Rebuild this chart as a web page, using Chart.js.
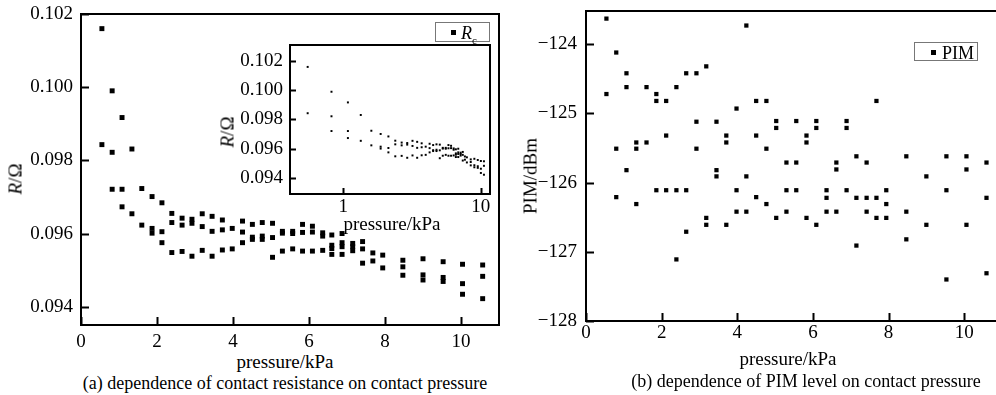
<!DOCTYPE html>
<html>
<head>
<meta charset="utf-8">
<script src="https://cdn.jsdelivr.net/npm/chart.js@4/dist/chart.umd.min.js"></script>
<style>
  html, body { margin: 0; padding: 0; background: #fff; overflow: hidden; }
  body { width: 996px; height: 395px; position: relative; font-family: "Liberation Serif", "Times New Roman", serif; color: #000; }
  canvas { position: absolute; }
  .lbl { position: absolute; transform: translate(-50%, -50%); white-space: nowrap; font-size: 19px; line-height: 1; }
  .cap { font-size: 18px; }
  .rot { transform: translate(-50%, -50%) rotate(-90deg); }
  .legend { position: absolute; border: 1px solid #777; background: #fff; font-size: 18px; line-height: 1; box-sizing: border-box; }
  .legend .mk { position: absolute; width: 5px; height: 5px; background: #000; }
  .legend .tx { position: absolute; }
</style>
</head>
<body>
<canvas id="chartA" width="510" height="350" style="left:0;top:0"></canvas>
<canvas id="chartInset" width="300" height="200" style="left:200px;top:30px"></canvas>
<canvas id="chartB" width="510" height="350" style="left:505px;top:0"></canvas>

<div class="lbl rot" style="left:15px;top:179px"><i>R</i>/Ω</div>
<div class="lbl" style="left:285px;top:361px">pressure/kPa</div>
<div class="lbl cap" style="left:285px;top:383px">(a) dependence of contact resistance on contact pressure</div>
<div class="lbl rot" style="left:227px;top:132px"><i>R</i>/Ω</div>
<div class="lbl" style="left:392px;top:223px">pressure/kPa</div>
<div class="legend" style="left:435px;top:22px;width:55px;height:20px">
  <span class="mk" style="left:15px;top:7px"></span>
  <span class="tx" style="left:25px;top:1px"><i>R</i><sub style="font-size:11px">c</sub></span>
</div>

<div class="lbl rot" style="left:530px;top:176px">PIM/dBm</div>
<div class="lbl" style="left:788px;top:358px">pressure/kPa</div>
<div class="lbl cap" style="left:806px;top:381px">(b) dependence of PIM level on contact pressure</div>
<div class="legend" style="left:914px;top:42px;width:64px;height:19px">
  <span class="mk" style="left:16px;top:7px"></span>
  <span class="tx" style="left:27px;top:1px">PIM</span>
</div>

<script>
// contact resistance vs pressure (one entry per plotted point)
const rcPressure = [
  0.55, 0.55,
  0.82, 0.82, 0.82,
  1.08, 1.08, 1.08,
  1.34, 1.34,
  1.60, 1.60,
  1.87, 1.87, 1.87,
  2.13, 2.13, 2.13,
  2.39, 2.39, 2.39,
  2.66, 2.66, 2.66,
  2.92, 2.92, 2.92,
  3.19, 3.19, 3.19,
  3.45, 3.45, 3.45,
  3.72, 3.72, 3.72,
  3.98, 3.98,
  4.25, 4.25, 4.25,
  4.51, 4.51, 4.51,
  4.77, 4.77, 4.77,
  5.04, 5.04, 5.04,
  5.30, 5.30, 5.30,
  5.57, 5.57, 5.57,
  5.83, 5.83, 5.83,
  6.09, 6.09, 6.09,
  6.36, 6.36, 6.36,
  6.60, 6.60, 6.60, 6.60,
  6.87, 6.87, 6.87, 6.87,
  7.15, 7.15, 7.15,
  7.41, 7.41, 7.41,
  7.68, 7.68,
  7.94, 7.94,
  8.47, 8.47, 8.47,
  9.00, 9.00, 9.00,
  9.53, 9.53, 9.53,
  10.04, 10.04, 10.04,
  10.57, 10.57, 10.57
];
const rcValue = [
  0.10160, 0.09843,
  0.09990, 0.09822, 0.09721,
  0.09917, 0.09721, 0.09673,
  0.09831, 0.09654,
  0.09723, 0.09623,
  0.09701, 0.09614, 0.09601,
  0.09684, 0.09605, 0.09575,
  0.09655, 0.09630, 0.09548,
  0.09642, 0.09623, 0.09551,
  0.09639, 0.09628, 0.09538,
  0.09654, 0.09619, 0.09554,
  0.09647, 0.09606, 0.09538,
  0.09637, 0.09610, 0.09555,
  0.09614, 0.09558,
  0.09634, 0.09604, 0.09575,
  0.09625, 0.09590, 0.09584,
  0.09630, 0.09593, 0.09584,
  0.09628, 0.09589, 0.09535,
  0.09606, 0.09601, 0.09552,
  0.09606, 0.09600, 0.09558,
  0.09625, 0.09603, 0.09552,
  0.09620, 0.09604, 0.09552,
  0.09602, 0.09593, 0.09554,
  0.09596, 0.09568, 0.09559, 0.09543,
  0.09600, 0.09575, 0.09564, 0.09543,
  0.09573, 0.09564, 0.09553,
  0.09578, 0.09558, 0.09519,
  0.09547, 0.09525,
  0.09541, 0.09506,
  0.09527, 0.09509, 0.09486,
  0.09531, 0.09487, 0.09473,
  0.09523, 0.09480, 0.09469,
  0.09516, 0.09463, 0.09434,
  0.09514, 0.09483, 0.09422
];

// PIM level vs pressure
const pimPressure = [
  0.54, 0.54,
  0.80, 0.80, 0.80,
  1.07, 1.07, 1.07,
  1.33, 1.33, 1.33,
  1.60, 1.60,
  1.86, 1.86, 1.86,
  2.12, 2.12, 2.12,
  2.39, 2.39, 2.39,
  2.65, 2.65, 2.65,
  2.92, 2.92, 2.92,
  3.18, 3.18, 3.18,
  3.45, 3.45, 3.45,
  3.71, 3.71, 3.71,
  3.98, 3.98, 3.98,
  4.24, 4.24, 4.24,
  4.50, 4.50, 4.50,
  4.77, 4.77, 4.77,
  5.03, 5.03, 5.03,
  5.30, 5.30, 5.30,
  5.56, 5.56, 5.56,
  5.83, 5.83, 5.83,
  6.09, 6.09, 6.09,
  6.36, 6.36, 6.36,
  6.62, 6.62, 6.62,
  6.89, 6.89, 6.89,
  7.15, 7.15, 7.15,
  7.42, 7.42, 7.42,
  7.68, 7.68, 7.68,
  7.94, 7.94, 7.94,
  8.47, 8.47, 8.47,
  9.00, 9.00,
  9.53, 9.53, 9.53,
  10.06, 10.06, 10.06,
  10.59, 10.59, 10.59
];
const pimLevel = [
  -123.63, -124.72,
  -124.12, -125.51, -126.21,
  -124.42, -124.62, -125.82,
  -125.42, -125.51, -126.31,
  -124.62, -125.42,
  -124.72, -124.82, -126.11,
  -124.82, -125.32, -126.11,
  -124.62, -126.11, -127.11,
  -124.42, -126.11, -126.71,
  -124.42, -125.12, -125.51,
  -124.32, -126.51, -126.61,
  -125.12, -125.82, -125.91,
  -125.32, -125.42, -126.61,
  -124.93, -126.11, -126.42,
  -123.73, -125.91, -126.42,
  -124.82, -125.32, -126.21,
  -124.82, -125.51, -126.31,
  -125.11, -125.21, -126.51,
  -125.71, -126.11, -126.42,
  -125.11, -125.71, -126.11,
  -125.32, -125.42, -126.51,
  -125.11, -125.21, -126.61,
  -126.11, -126.22, -126.42,
  -125.71, -125.81, -126.42,
  -125.11, -125.21, -126.11,
  -125.62, -126.22, -126.91,
  -125.71, -126.22, -126.42,
  -124.82, -126.22, -126.51,
  -126.11, -126.31, -126.51,
  -125.62, -126.42, -126.82,
  -125.91, -126.61,
  -125.62, -126.11, -127.40,
  -125.62, -125.81, -126.61,
  -125.71, -126.22, -127.31
];

const pressureTicks = [0, 2, 4, 6, 8, 10];
const rcTicks = [0.094, 0.096, 0.098, 0.100, 0.102];
const insetPressureTicks = [1, 10];
const pimTicks = [-128, -127, -126, -125, -124];

const FONT = { family: '"Liberation Serif", "Times New Roman", serif', size: 19 };
const INK = '#000';

const toPoints = (xs, ys) => xs.map((x, i) => ({ x: x, y: ys[i] }));

// axis box sizes fixed so the plot frame lands where the original has it
const fixBox = (size) => (scale) => {
    if (scale.isHorizontal()) scale.height = size; else scale.width = size;
    scale.paddingTop = scale.paddingBottom = scale.paddingLeft = scale.paddingRight = 0;
};
const useTicks = (list) => (scale) => { scale.ticks = list.map(v => ({ value: v })); };

// frame around the plot plus inward tick marks
const frameTicks = {
    id: 'frameTicks',
    afterDraw(chart, args, opts) {
        const { ctx, chartArea: a, scales: { x, y } } = chart;
        ctx.save();
        ctx.strokeStyle = INK;
        ctx.lineWidth = opts.width;
        ctx.strokeRect(a.left, a.top, a.right - a.left, a.bottom - a.top);
        ctx.beginPath();
        x.ticks.forEach(t => {
            const px = Math.round(x.getPixelForValue(t.value)) + 0.5;
            ctx.moveTo(px, a.bottom);
            ctx.lineTo(px, a.bottom - opts.len);
        });
        y.ticks.forEach(t => {
            const py = Math.round(y.getPixelForValue(t.value)) + 0.5;
            ctx.moveTo(a.left, py);
            ctx.lineTo(a.left + opts.len, py);
        });
        ctx.stroke();
        ctx.restore();
    }
};

const axis = (opts) => ({
    type: opts.type || 'linear',
    min: opts.min,
    max: opts.max,
    afterBuildTicks: useTicks(opts.ticks),
    afterFit: fixBox(opts.box),
    grid: { display: false, drawTicks: false },
    border: { display: false },
    ticks: {
        color: INK,
        font: FONT,
        padding: opts.pad,
        maxRotation: 0,
        autoSkip: false,
        callback: opts.fmt
    }
});

const baseOptions = (padding, scales, frame) => ({
    responsive: false,
    animation: false,
    events: [],
    layout: { padding: padding },
    plugins: { legend: { display: false }, tooltip: { enabled: false }, frameTicks: frame },
    scales: scales
});

new Chart(document.getElementById('chartA'), {
    type: 'scatter',
    data: { datasets: [{
        label: 'Rc',
        data: toPoints(rcPressure, rcValue),
        pointStyle: 'rect', pointRadius: 3.5, pointBorderWidth: 0,
        backgroundColor: INK, borderColor: INK
    }] },
    options: baseOptions({ top: 14, left: 0, right: 11, bottom: 0 }, {
        x: axis({ min: 0, max: 11, ticks: pressureTicks, box: 25, pad: 6, fmt: v => String(v) }),
        y: axis({ min: 0.0935, max: 0.102, ticks: rcTicks, box: 81, pad: 8, fmt: v => v.toFixed(3) })
    }, { width: 2, len: 8 }),
    plugins: [frameTicks]
});

new Chart(document.getElementById('chartInset'), {
    type: 'scatter',
    data: { datasets: [{
        label: 'Rc',
        data: toPoints(rcPressure, rcValue),
        pointStyle: 'rect', pointRadius: 1.4, pointBorderWidth: 0,
        backgroundColor: INK, borderColor: INK
    }] },
    options: baseOptions({ top: 15, left: 0, right: 10, bottom: 0 }, {
        x: axis({ type: 'logarithmic', min: 0.409, max: 11.7, ticks: insetPressureTicks, box: 36, pad: 2, fmt: v => String(v) }),
        y: axis({ min: 0.0929, max: 0.1031, ticks: rcTicks, box: 90, pad: 7, fmt: v => v.toFixed(3) })
    }, { width: 2, len: 6 }),
    plugins: [frameTicks]
});

new Chart(document.getElementById('chartB'), {
    type: 'scatter',
    data: { datasets: [{
        label: 'PIM',
        data: toPoints(pimPressure, pimLevel),
        pointStyle: 'rect', pointRadius: 3, pointBorderWidth: 0,
        backgroundColor: INK, borderColor: INK
    }] },
    options: baseOptions({ top: 11, left: 0, right: 13, bottom: 0 }, {
        x: axis({ min: 0, max: 11, ticks: pressureTicks, box: 29, pad: 1, fmt: v => String(v) }),
        y: axis({ min: -128, max: -123.52, ticks: pimTicks, box: 81, pad: 9, fmt: v => '\u2212' + Math.abs(v) })
    }, { width: 2, len: 8 }),
    plugins: [frameTicks]
});
</script>
</body>
</html>
